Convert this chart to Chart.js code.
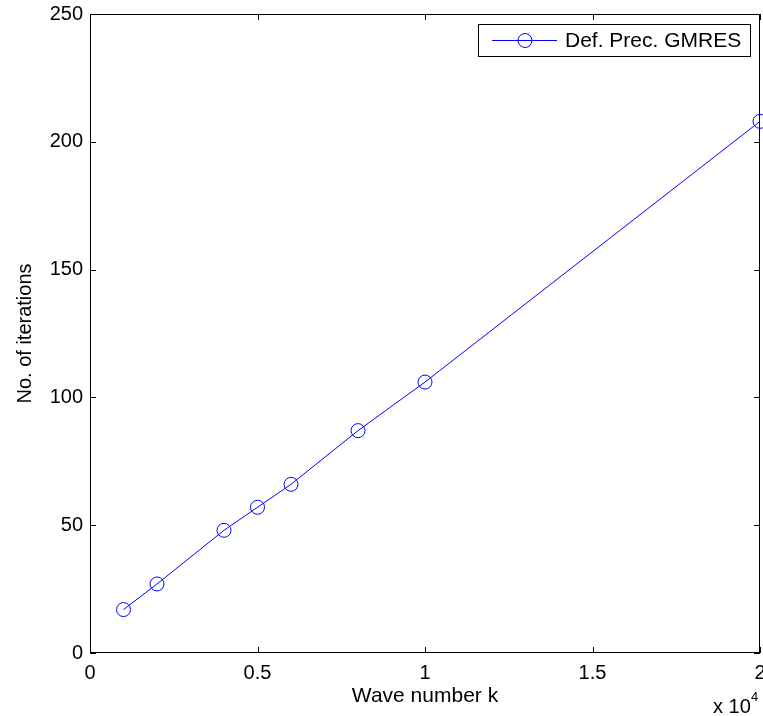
<!DOCTYPE html>
<html lang="en">
<head>
    <meta charset="UTF-8">
    <title>Def. Prec. GMRES iterations</title>
    <script src="https://cdnjs.cloudflare.com/ajax/libs/Chart.js/4.4.1/chart.umd.min.js"></script>
    <style>
        body, html { margin: 0; padding: 0; background: #fff; overflow: hidden; }
        /* a bit wider than the window: the last marker is cut at the edge like in the figure */
        #wrap { width: 768px; height: 716px; }
    </style>
</head>
<body>
    <div id="wrap"><canvas id="myChart"></canvas></div>
    <script>
        // Wave numbers k and iteration counts
        const waveNumbers = [1000, 2000, 4000, 5000, 6000, 8000, 10000, 20000];
        const iterations = [17, 27, 48, 57, 66, 87, 106, 208];
        const seriesLabel = 'Def. Prec. GMRES';
        const xTitle = 'Wave number k';
        const yTitle = 'No. of iterations';

        const FONT = 'Liberation Sans, Arial, Helvetica, sans-serif';
        const BLUE = 'rgb(0, 0, 255)';

        // MATLAB-style box with inward ticks, legend and the x 10^4 multiplier
        const matlabAxes = {
            id: 'matlabAxes',
            afterDatasetsDraw(chart) {
                const ctx = chart.ctx;
                const a = chart.chartArea;
                const xs = chart.scales.x, ys = chart.scales.y;
                const tl = 6;
                ctx.save();
                ctx.strokeStyle = '#000';
                ctx.lineWidth = 1;
                ctx.strokeRect(a.left + 0.5, a.top + 0.5, a.right - a.left - 1, a.bottom - a.top - 1);
                ctx.beginPath();
                xs.ticks.forEach(t => {
                    const px = Math.round(xs.getPixelForValue(t.value)) + 0.5;
                    ctx.moveTo(px, a.bottom); ctx.lineTo(px, a.bottom - tl);
                    ctx.moveTo(px, a.top); ctx.lineTo(px, a.top + tl);
                });
                ys.ticks.forEach(t => {
                    const py = Math.round(ys.getPixelForValue(t.value)) + 0.5;
                    ctx.moveTo(a.left, py); ctx.lineTo(a.left + tl, py);
                    ctx.moveTo(a.right, py); ctx.lineTo(a.right - tl, py);
                });
                ctx.stroke();

                // legend
                const lx = 478.5, ly = 24.5, lw = 272, lh = 32;
                ctx.fillStyle = '#fff';
                ctx.fillRect(lx, ly, lw, lh);
                ctx.strokeRect(lx, ly, lw, lh);
                const cy = ly + lh / 2;
                ctx.strokeStyle = BLUE;
                ctx.beginPath();
                ctx.moveTo(492, cy); ctx.lineTo(557, cy);
                ctx.stroke();
                ctx.beginPath();
                ctx.arc(525, cy, 7, 0, Math.PI * 2);
                ctx.stroke();
                ctx.fillStyle = '#000';
                ctx.font = '21px ' + FONT;
                ctx.textBaseline = 'middle';
                ctx.textAlign = 'left';
                ctx.fillText(chart.data.datasets[0].label, 565, cy + 1);

                // exponent of the x axis
                ctx.font = '20px ' + FONT;
                ctx.textBaseline = 'alphabetic';
                ctx.fillText('x 10', 713, 713);
                ctx.font = '13px ' + FONT;
                ctx.fillText('4', 751, 701);
                ctx.restore();
            }
        };

        const ctx = document.getElementById('myChart').getContext('2d');
        const myChart = new Chart(ctx, {
            type: 'scatter',
            data: {
                datasets: [{
                    label: seriesLabel,
                    data: waveNumbers.map((k, i) => ({ x: k, y: iterations[i] })),
                    showLine: true,
                    borderColor: BLUE,
                    borderWidth: 1,
                    backgroundColor: 'rgba(0,0,0,0)',
                    pointBorderColor: BLUE,
                    pointBackgroundColor: 'rgba(0,0,0,0)',
                    pointRadius: 7,
                    pointBorderWidth: 1,
                    tension: 0,
                    clip: false
                }]
            },
            options: {
                responsive: true,
                maintainAspectRatio: false,
                animation: false,
                layout: { padding: { top: 14, right: 0, left: 0, bottom: 0 } },
                plugins: {
                    legend: { display: false },
                    tooltip: { enabled: false }
                },
                scales: {
                    x: {
                        type: 'linear',
                        min: 0,
                        max: 20000,
                        grid: { display: false, drawTicks: false },
                        border: { display: false },
                        ticks: {
                            stepSize: 5000,
                            color: '#000',
                            padding: 8,
                            maxRotation: 0,
                            font: { family: FONT, size: 20 },
                            callback: v => String(v / 10000)
                        },
                        title: {
                            display: true,
                            text: xTitle,
                            color: '#000',
                            font: { family: FONT, size: 21 },
                            padding: { top: 0, bottom: 7 }
                        },
                        afterFit: s => { s.height = 63; s.paddingLeft = 0; s.paddingRight = 0; }
                    },
                    y: {
                        type: 'linear',
                        min: 0,
                        max: 250,
                        grid: { display: false, drawTicks: false },
                        border: { display: false },
                        ticks: {
                            stepSize: 50,
                            color: '#000',
                            padding: 7,
                            font: { family: FONT, size: 20 }
                        },
                        title: {
                            display: true,
                            text: yTitle,
                            color: '#000',
                            font: { family: FONT, size: 20 },
                            padding: { top: 13, bottom: 0 }
                        },
                        afterFit: s => { s.width = 90; s.paddingTop = 0; s.paddingBottom = 0; }
                    }
                }
            },
            plugins: [matlabAxes]
        });
    </script>
</body>
</html>
